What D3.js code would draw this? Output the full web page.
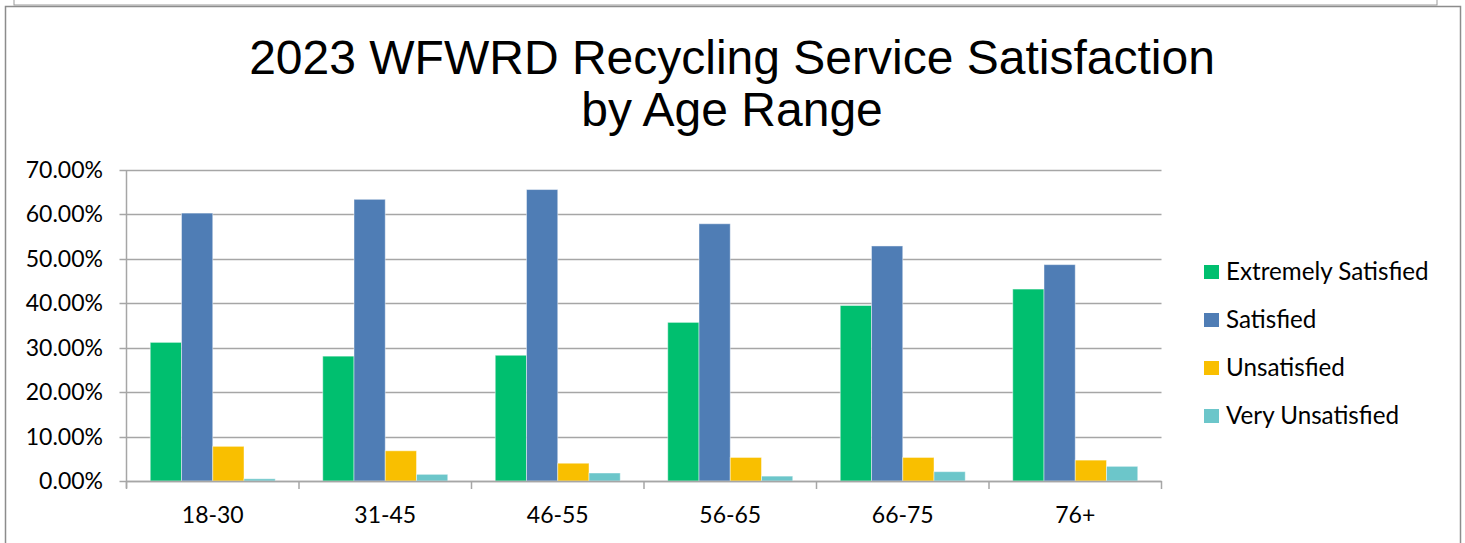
<!DOCTYPE html>
<html>
<head>
<meta charset="utf-8">
<script src="https://cdn.jsdelivr.net/npm/d3@7"></script>
<style>
  html, body { margin: 0; padding: 0; background: #fff; }
  svg { display: block; }
</style>
</head>
<body>
<svg id="chart" width="1465" height="543"></svg>
<script>
// ---- data ----
const categories = ["18-30", "31-45", "46-55", "56-65", "66-75", "76+"];
const seriesNames = ["Extremely Satisfied", "Satisfied", "Unsatisfied", "Very Unsatisfied"];
const extremelySatisfied = [0.312, 0.281, 0.283, 0.357, 0.395, 0.432];
const satisfied          = [0.603, 0.634, 0.656, 0.579, 0.529, 0.487];
const unsatisfied        = [0.078, 0.068, 0.040, 0.053, 0.053, 0.047];
const veryUnsatisfied    = [0.005, 0.015, 0.018, 0.011, 0.021, 0.033];
const yTicks = [0, 0.1, 0.2, 0.3, 0.4, 0.5, 0.6, 0.7];
const titleLines = ["2023 WFWRD Recycling Service Satisfaction", "by Age Range"];
const colors = ["#00BF6F", "#4F7DB5", "#F9BF00", "#6CC6CA"];

const seriesValues = [extremelySatisfied, satisfied, unsatisfied, veryUnsatisfied];

const svg = d3.select("#chart");
const labelFont = "Lato, 'Open Sans', sans-serif";

// outer frames
svg.append("rect").attr("x", 14).attr("y", -10).attr("width", 1423).attr("height", 15)
  .attr("fill", "none").attr("stroke", "#9a9a9a").attr("stroke-width", 1);
svg.append("rect").attr("x", 5.5).attr("y", 6.5).attr("width", 1455).attr("height", 560)
  .attr("fill", "#fff").attr("stroke", "#8c8c8c").attr("stroke-width", 1.5);

// title
const title = svg.append("text")
  .attr("text-anchor", "middle")
  .attr("font-family", "'Liberation Sans', Arial, sans-serif")
  .attr("font-size", 48)
  .attr("fill", "#000");
titleLines.forEach((t, i) => {
  title.append("tspan").attr("x", 732).attr("y", 74 + i * 52).text(t);
});

// plot area
const plotLeft = 126.5, plotRight = 1161.5, plotTop = 170, plotBottom = 481;

const x0 = d3.scaleBand().domain(categories).range([plotLeft, plotRight]).paddingInner(0).paddingOuter(0);
const x1 = d3.scaleBand().domain(seriesNames).range([0, x0.bandwidth()]).paddingInner(0).paddingOuter(0.76);
const y = d3.scaleLinear().domain([0, 0.7]).range([plotBottom, plotTop]);

// gridlines
svg.append("g").selectAll("line").data(yTicks).join("line")
  .attr("x1", plotLeft - 7).attr("x2", plotRight)
  .attr("y1", d => Math.round(y(d)) + 0.5).attr("y2", d => Math.round(y(d)) + 0.5)
  .attr("stroke", "#a6a6a6").attr("stroke-width", 1.5);

// y axis line
svg.append("line").attr("x1", plotLeft).attr("x2", plotLeft).attr("y1", plotTop).attr("y2", plotBottom + 7)
  .attr("stroke", "#a6a6a6").attr("stroke-width", 1.5);

// y labels
const fmt = d3.format(".2%");
svg.append("g").selectAll("text").data(yTicks).join("text")
  .attr("x", 103).attr("y", d => y(d))
  .attr("dy", "0.35em")
  .attr("text-anchor", "end")
  .attr("font-family", labelFont).attr("font-size", 23).attr("fill", "#000")
  .text(d => fmt(d));

// x ticks
const tickPositions = categories.map(c => x0(c)).concat([plotRight]);
svg.append("g").selectAll("line").data(tickPositions).join("line")
  .attr("x1", d => d).attr("x2", d => d).attr("y1", plotBottom).attr("y2", plotBottom + 8)
  .attr("stroke", "#a6a6a6").attr("stroke-width", 1.5);

// bars
const groups = svg.append("g").selectAll("g").data(categories).join("g")
  .attr("transform", c => `translate(${x0(c)},0)`);
groups.selectAll("rect")
  .data((c, ci) => seriesNames.map((s, si) => ({ s, si, v: seriesValues[si][ci] })))
  .join("rect")
  .attr("x", d => x1(d.s))
  .attr("width", x1.bandwidth())
  .attr("y", d => y(d.v))
  .attr("height", d => y(0) - y(d.v))
  .attr("fill", d => colors[d.si])
  .attr("stroke", "#ffffff").attr("stroke-opacity", 0.45).attr("stroke-width", 1);

// x axis line (drawn over bars)
svg.append("line").attr("x1", plotLeft).attr("x2", plotRight).attr("y1", plotBottom + 0.5).attr("y2", plotBottom + 0.5)
  .attr("stroke", "#a6a6a6").attr("stroke-width", 1.5);

// x labels
svg.append("g").selectAll("text").data(categories).join("text")
  .attr("x", c => x0(c) + x0.bandwidth() / 2)
  .attr("y", 523)
  .attr("text-anchor", "middle")
  .attr("font-family", labelFont).attr("font-size", 23).attr("fill", "#000")
  .text(c => c);

// legend
const legend = svg.append("g").selectAll("g").data(seriesNames).join("g")
  .attr("transform", (d, i) => `translate(1204,${265 + i * 48})`);
legend.append("rect").attr("width", 15).attr("height", 14).attr("fill", (d, i) => colors[i]);
legend.append("text").attr("x", 22).attr("y", 14.5)
  .attr("font-family", labelFont).attr("font-size", 24.2).attr("fill", "#000")
  .text(d => d);
</script>
</body>
</html>
